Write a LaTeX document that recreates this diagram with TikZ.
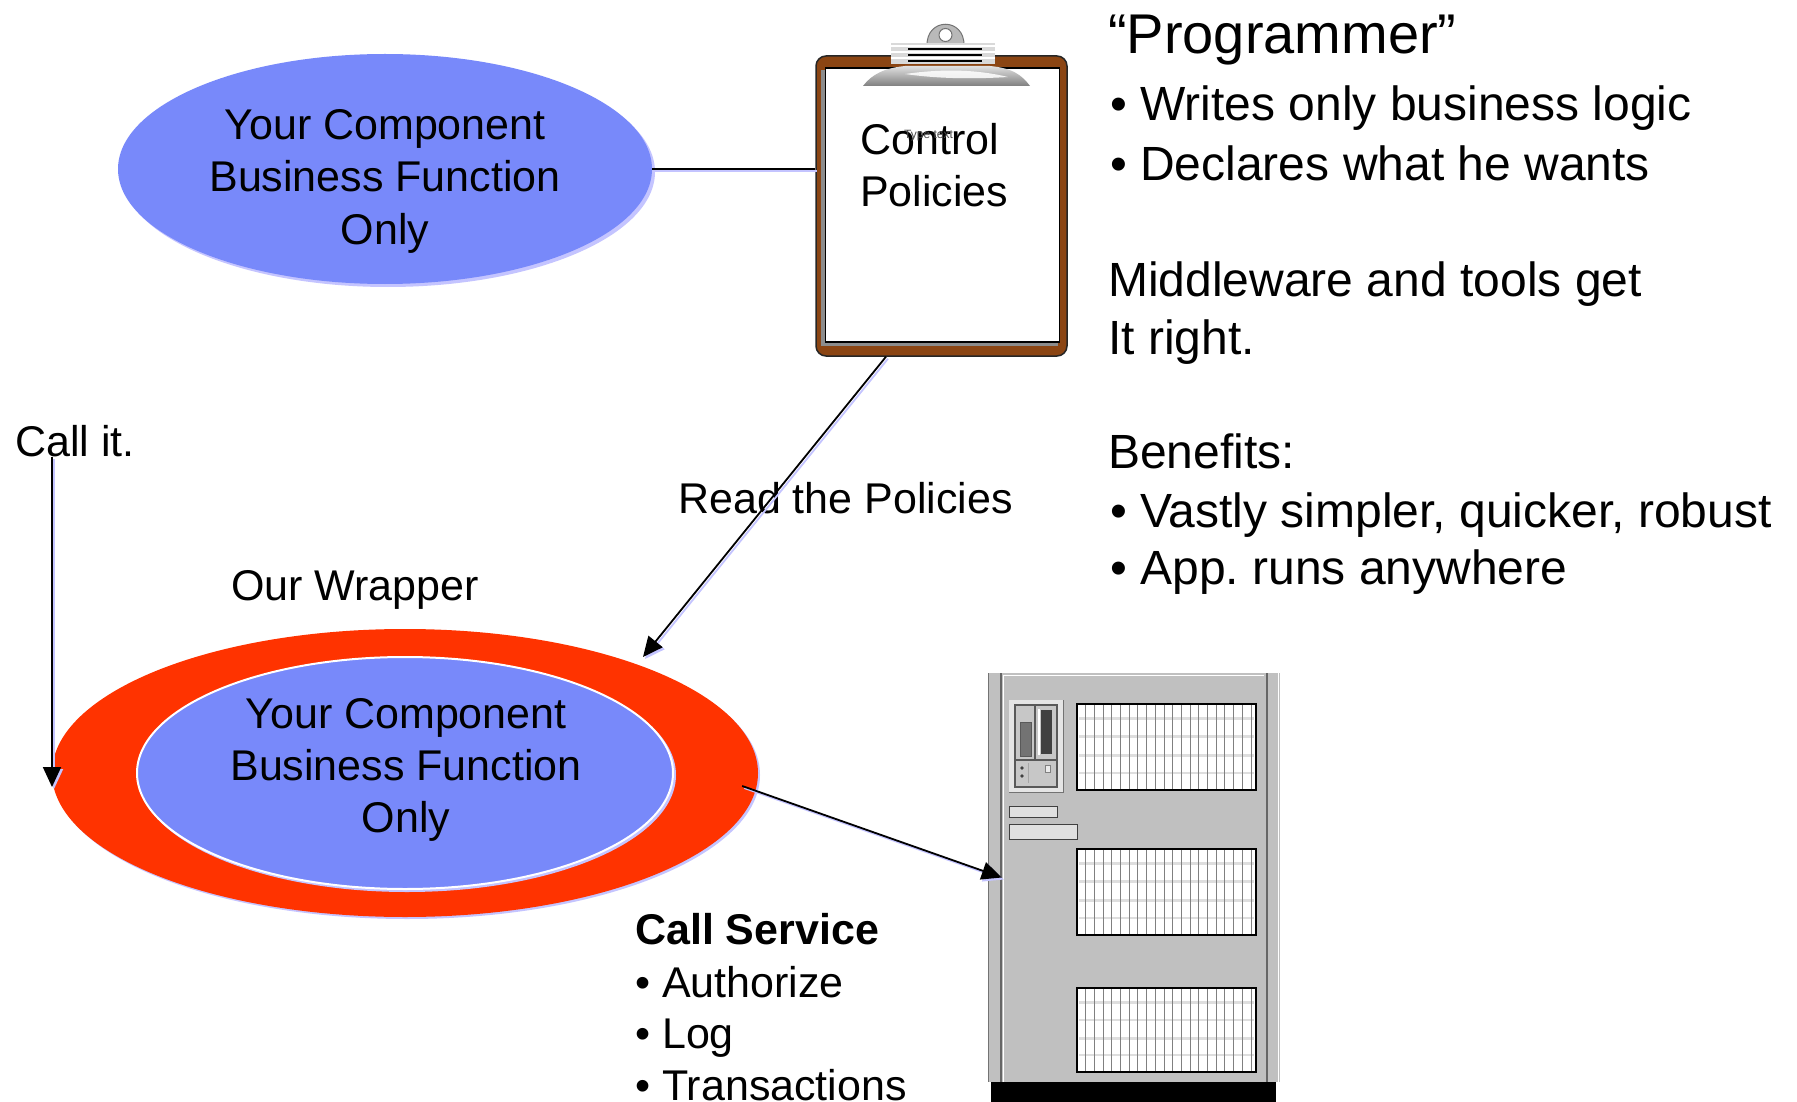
\documentclass[tikz,border=0pt]{standalone}
\usepackage{fontspec}
\setmainfont{Liberation Sans}
\usetikzlibrary{shapes.geometric,arrows.meta,calc}
\definecolor{compblue}{RGB}{120,137,250}
\definecolor{wrapred}{RGB}{255,51,0}
\definecolor{halo}{RGB}{196,196,255}
\definecolor{boardbrown}{RGB}{139,69,19}
\definecolor{rackgray}{RGB}{192,192,192}
\definecolor{metal}{RGB}{185,185,185}
\frenchspacing
\begin{document}
\begin{tikzpicture}[x=1pt,y=-1pt,
  lbl/.style={inner sep=0pt, anchor=base, font=\fontsize{43}{52}\selectfont},
  lblw/.style={lbl, anchor=base west},
  side/.style={inner sep=0pt, anchor=base west, font=\fontsize{48}{58}\selectfont},
  blob/.style={ellipse, inner sep=0pt, fill=compblue},
  tipped/.style={-{Triangle[length=20pt,width=18pt]}},
  wire/.style={draw=black, line width=1.8pt},
  glow/.style={draw=halo, line width=1.8pt, transform canvas={shift={(2pt,-2pt)}}},
  key/.style={fill=black!12, draw=black!75, line width=1pt},
]
\useasboundingbox (0,0) rectangle (1797,1102);
\fill[white] (0,0) rectangle (1797,1102);

% ---- component (top) ----
\fill[halo] (388,172) ellipse [x radius=267, y radius=115];
\node[blob, minimum width=534pt, minimum height=230pt] (comp) at (385,169) {};
\node[lbl] (compA) at (385,140) {Your Component};
\node[lbl] (compB) at (385,192) {Business Function};
\node[lbl] (compC) at (385,244) {Only};

% ---- clipboard ----
\node[draw=black!85, fill=boardbrown, line width=1.5pt, rounded corners=10pt,
      minimum width=251pt, minimum height=300pt, inner sep=0pt] (board) at (941.5,206) {};
\fill[black!45] (821,70) rectangle (1058,346);
\node[draw=black, fill=white, line width=1.2pt, minimum width=234pt, minimum height=274pt,
      inner sep=0pt] (sheet) at (942.5,205) {};
% clip ring
\path[fill=metal, draw=black!55, line width=1pt] (927,46) .. controls (926,17) and (965,17) .. (964,46) -- cycle;
\fill[white, draw=black!55, line width=1pt] (945.5,35) circle (6.5);
% clip band
\fill[black!15] (891,43) rectangle (995,64);
\foreach \yy in {45,51,57} \fill[white] (891,\yy) rectangle (995,\yy+2);
\foreach \yy in {49,55,61} \draw[black, line width=1.3pt] (908,\yy) -- (982,\yy);
% clip base
\shade[top color=black!12, bottom color=black!50] (863,86) .. controls (872,74) and (885,68) .. (905,66)
   -- (990,66) .. controls (1012,68) and (1022,75) .. (1030,86) -- cycle;
\fill[white, opacity=0.85] (905,74) .. controls (940,69) and (975,69) .. (1008,77)
   .. controls (975,79) and (940,79) .. (905,74) -- cycle;
\node[lblw] (ctl) at (860,155) {Control};
\node[lblw] (pol) at (860,207) {Policies};
\node[inner sep=0pt, anchor=base west, font=\fontsize{12}{12}\selectfont, text=black!70] (typ) at (904,139) {Type text};

% ---- right-hand notes ----
\node[side, font=\fontsize{56}{60}\selectfont] (prog) at (1108,54) {“Programmer”};
\node[side] (r1) at (1110,121) {• Writes only business logic};
\node[side] (r2) at (1110,181) {• Declares what he wants};
\node[side] (r3) at (1108,296) {Middleware and tools get};
\node[side] (r4) at (1108,354) {It right.};
\node[side] (r5) at (1108,468) {Benefits:};
\node[side] (r6) at (1110,527) {• Vastly simpler, quicker, robust};
\node[side] (r7) at (1110,584) {• App. runs anywhere};

% ---- labels ----
\node[lblw] (callit) at (15,456) {Call it.};
\node[lblw] (wraplbl) at (231,600) {Our Wrapper};
\node[lblw] (readlbl) at (678,513) {Read the Policies};

% ---- wrapper with component inside ----
\fill[halo] (407,775) ellipse [x radius=353, y radius=144];
\node[ellipse, fill=wrapred, inner sep=0pt, minimum width=706pt, minimum height=288pt] (wrap) at (405,773) {};
\fill[halo] (407,775) ellipse [x radius=269, y radius=117];
\node[blob, draw=white, line width=2pt, minimum width=536pt, minimum height=232pt] (inner) at (405,773) {};
\node[lbl] (innA) at (406,728) {Your Component};
\node[lbl] (innB) at (406,780) {Business Function};
\node[lbl] (innC) at (406,832) {Only};

% ---- service list ----
\node[lblw, font=\bfseries\fontsize{43}{52}\selectfont] (svc) at (635,944) {Call Service};
\node[lblw] (s1) at (635,997) {• Authorize};
\node[lblw] (s2) at (635,1048) {• Log};
\node[lblw] (s3) at (635,1100) {• Transactions};

% ---- server cabinet ----
\fill[black] (991,1082) rectangle (1276,1102);
\fill[rackgray] (988,673) rectangle (1280,1082);
\node[fill=rackgray, inner sep=0pt, minimum width=265pt, minimum height=409pt] (panel) at (1134.5,877.5) {};
\draw[black!55, line width=1pt] (988.5,673) -- (988.5,1082);
\draw[black!60, line width=1.2pt] (1001,673) -- (1001,1082);
\draw[white, line width=1pt] (1003,676) -- (1003,1082);
\draw[white, line width=1pt] (1003,675) -- (1264,675);
\draw[black!60, line width=1.2pt] (1267,673) -- (1267,1082);
\draw[white, line width=1pt] (1278,673) -- (1278,1082);
\foreach \ya/\yb in {704/790, 849/935, 988/1072} {
  \fill[white] (1077,\ya) rectangle (1256,\yb);
  \foreach \f in {0.17,0.38,0.6,0.8}
    \draw[black!13, line width=2.5pt] (1079,{\ya+\f*(\yb-\ya)}) -- (1254,{\ya+\f*(\yb-\ya)});
  \foreach \i in {1,...,20}
    \draw[black!50, line width=1pt] ({1077+\i*8.7},\ya) -- ({1077+\i*8.7},\yb);
  \draw[black, line width=1.2pt] (1077,\ya) rectangle (1256,\yb);
}
% drive bay
\fill[black!10] (1009,700) rectangle (1063,792);
\draw[black!55, line width=1pt] (1009,792) -- (1063,792) -- (1063,700);
\draw[black!65, fill=black!22, line width=1.2pt] (1015,705) rectangle (1057,787);
\draw[black!65, line width=1.2pt] (1015,760) -- (1057,760);
\draw[black!65, line width=1.2pt] (1035,705) -- (1035,760);
\draw[black!65, fill=black!55, line width=1pt] (1020,722) rectangle (1031,756);
\fill[white] (1038,709) rectangle (1040,755);
\fill[black!75] (1041,710) rectangle (1052,754);
\fill[black!75] (1022,768) circle (1.8);
\fill[black!75] (1022,776) circle (1.8);
\draw[black!35] (1028,763) -- (1028,783);
\draw[black!50, fill=black!8] (1045,765) rectangle (1050,772);
% buttons
\draw[key] (1009,806) rectangle (1057,817);
\draw[key] (1009,824) rectangle (1077,839);

% ---- connectors ----
\coordinate (linkend) at (comp.east -| board.west);
\draw[glow] (comp.east) -- (linkend);
\draw[wire] (comp.east) -- (linkend);

\coordinate (readfrom) at ($(board.south west)!0.28!(board.south east)$);
\coordinate (readtip) at (643,657);
\draw[glow, tipped] (readfrom) -- (readtip);
\draw[wire, tipped] (readfrom) -- (readtip);

\coordinate (calltip) at (52,787);
\draw[glow, tipped] (callit.south -| calltip) -- (calltip);
\draw[wire, tipped] (callit.south -| calltip) -- (calltip);

\coordinate (svcfrom) at ($(wrap.east)+(-16,13)$);
\draw[glow, tipped] (svcfrom) -- (panel.west);
\draw[wire, tipped] (svcfrom) -- (panel.west);
\end{tikzpicture}
\end{document}
